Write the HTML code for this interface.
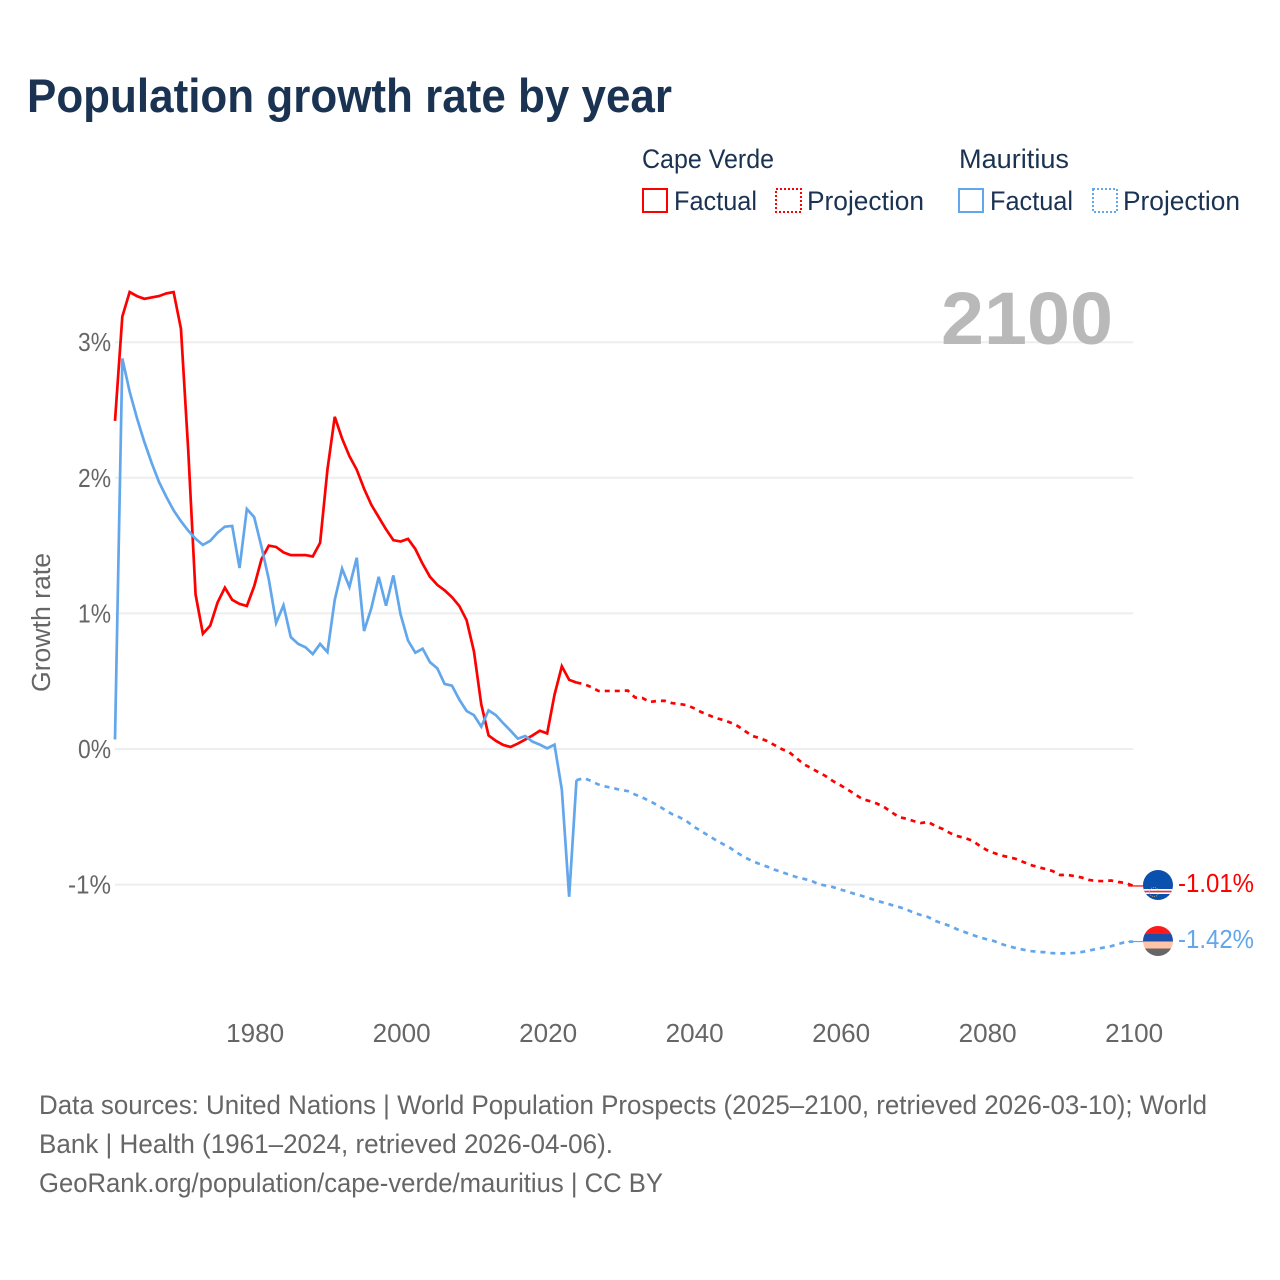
<!DOCTYPE html>
<html lang="en">
<head>
<meta charset="utf-8">
<title>Population growth rate by year</title>
<style>
html,body{margin:0;padding:0;background:#fff;width:1280px;height:1280px;overflow:hidden}
svg{display:block}
text{font-family:"Liberation Sans",sans-serif}
</style>
</head>
<body>
<svg id="chart" xmlns="http://www.w3.org/2000/svg" width="1280" height="1280" viewBox="0 0 1280 1280">
  <rect x="0" y="0" width="1280" height="1280" fill="#ffffff"/>
  <text x="27" y="112" font-size="47" font-weight="700" fill="#1a3352" textLength="645" lengthAdjust="spacingAndGlyphs">Population growth rate by year</text>

  <g font-size="26.5" fill="#1a3352">
    <text x="642" y="168" textLength="132" lengthAdjust="spacingAndGlyphs">Cape Verde</text>
    <text x="959" y="168" textLength="110" lengthAdjust="spacingAndGlyphs">Mauritius</text>
    <g>
      <rect x="643" y="189" width="24" height="23" fill="none" stroke="#ff0000" stroke-width="2"/>
      <text x="674" y="210" textLength="83" lengthAdjust="spacingAndGlyphs">Factual</text>
    </g>
    <g>
      <rect x="776" y="189" width="25" height="23" fill="none" stroke="#ff0000" stroke-width="2" stroke-dasharray="2 2"/>
      <text x="807" y="210" textLength="117" lengthAdjust="spacingAndGlyphs">Projection</text>
    </g>
    <g>
      <rect x="959" y="189" width="24" height="23" fill="none" stroke="#62a6ec" stroke-width="2"/>
      <text x="990" y="210" textLength="83" lengthAdjust="spacingAndGlyphs">Factual</text>
    </g>
    <g>
      <rect x="1093" y="189" width="24" height="23" fill="none" stroke="#62a6ec" stroke-width="2" stroke-dasharray="2 2"/>
      <text x="1123" y="210" textLength="117" lengthAdjust="spacingAndGlyphs">Projection</text>
    </g>
  </g>

  <g id="grid"></g>
  <g id="yticks"></g>
  <g id="xticks"></g>

  <text x="941" y="344" font-size="74" font-weight="700" fill="#b9b9b9" textLength="172" lengthAdjust="spacingAndGlyphs">2100</text>

  <text transform="translate(50 692) rotate(-90)" font-size="25.5" fill="#666666" textLength="139" lengthAdjust="spacingAndGlyphs">Growth rate</text>

  <g id="series"></g>

  <g>
    <clipPath id="clip-cv"><circle cx="1158" cy="885" r="15"/></clipPath>
    <g clip-path="url(#clip-cv)">
      <rect x="1143" y="870" width="30" height="30" fill="#0a50ad"/>
      <rect x="1143" y="889" width="30" height="5" fill="#ffffff"/>
      <rect x="1143" y="890.7" width="30" height="1.7" fill="#e8303a"/>
      <circle cx="1154" cy="892" r="4.5" fill="none" stroke="#d8b060" stroke-width="0.8" stroke-dasharray="1 1"/>
    </g>
  </g>
  <g>
    <clipPath id="clip-mu"><circle cx="1158" cy="941" r="15"/></clipPath>
    <g clip-path="url(#clip-mu)">
      <rect x="1143" y="926" width="30" height="8" fill="#ff1a1a"/>
      <rect x="1143" y="934" width="30" height="7.5" fill="#1c50a8"/>
      <rect x="1143" y="941.5" width="30" height="7" fill="#ffc4a8"/>
      <rect x="1143" y="948.5" width="30" height="8" fill="#666666"/>
    </g>
  </g>

  <text x="1178" y="892" font-size="26" fill="#ff0000" textLength="76" lengthAdjust="spacingAndGlyphs">-1.01%</text>
  <text x="1178" y="948" font-size="26" fill="#62a6ec" textLength="76" lengthAdjust="spacingAndGlyphs">-1.42%</text>

  <g font-size="26.5" fill="#666666">
    <text x="39" y="1114" textLength="1168" lengthAdjust="spacingAndGlyphs">Data sources: United Nations | World Population Prospects (2025–2100, retrieved 2026-03-10); World</text>
    <text x="39" y="1153" textLength="574" lengthAdjust="spacingAndGlyphs">Bank | Health (1961–2024, retrieved 2026-04-06).</text>
    <text x="39" y="1192" textLength="624" lengthAdjust="spacingAndGlyphs">GeoRank.org/population/cape-verde/mauritius | CC BY</text>
  </g>
</svg>
<script>
const factualStartYear = 1961;
const projectionStartYear = 2024;
const yTickValues = [3, 2, 1, 0, -1];
const yTickLabels = ['3%', '2%', '1%', '0%', '-1%'];
const xTickValues = [1980, 2000, 2020, 2040, 2060, 2080, 2100];

const capeVerdeFactual = [
  2.42,3.19,3.37,3.34,3.32,3.33,3.34,3.36,3.37,3.10,
  2.2,1.14,0.85,0.91,1.08,1.19,1.10,1.07,1.055,1.20,
  1.40,1.50,1.49,1.45,1.43,1.43,1.43,1.42,1.52,2.06,
  2.45,2.29,2.16,2.06,1.92,1.80,1.71,1.62,1.54,1.53,
  1.55,1.475,1.365,1.27,1.21,1.17,1.12,1.055,0.95,0.72,
  0.33,0.10,0.06,0.03,0.015,0.04,0.07,0.10,0.135,0.115,
  0.40,0.61,0.51,0.49
];
const mauritiusFactual = [
  0.07,2.88,2.635,2.44,2.265,2.11,1.97,1.86,1.76,1.68,
  1.61,1.55,1.505,1.535,1.595,1.64,1.645,1.335,1.77,1.71,
  1.49,1.25,0.93,1.06,0.825,0.775,0.75,0.70,0.775,0.715,
  1.10,1.33,1.195,1.41,0.87,1.04,1.27,1.057,1.28,0.99,
  0.80,0.71,0.74,0.64,0.595,0.48,0.467,0.365,0.28,0.25,
  0.165,0.285,0.25,0.19,0.135,0.076,0.096,0.054,0.032,0.005,
  0.032,-0.30,-1.09,-0.23
];
const capeVerdeProjection = [
  0.49,0.479,0.457,0.428,0.428,0.428,0.428,0.431,0.38,0.376,0.347,0.354,0.356,0.339,0.332,0.324,0.302,
  0.273,0.251,0.229,0.214,0.195,0.170,0.133,0.096,0.081,0.059,
  0.03,0,-0.022,-0.066,-0.111,-0.14,-0.17,-0.199,-0.236,-0.266,
  -0.299,-0.332,-0.369,-0.384,-0.402,-0.428,-0.465,-0.502,-0.513,-0.531,
  -0.546,-0.538,-0.568,-0.59,-0.62,-0.642,-0.656,-0.675,-0.712,-0.745,
  -0.767,-0.785,-0.797,-0.811,-0.833,-0.856,-0.87,-0.885,-0.90,-0.929,
  -0.929,-0.937,-0.948,-0.966,-0.974,-0.974,-0.97,-0.981,-0.988,-1.01
];
const mauritiusProjection = [
  -0.23,-0.214,-0.236,-0.262,-0.277,-0.288,-0.302,-0.31,-0.336,-0.358,-0.384,-0.413,-0.446,-0.479,-0.502,-0.531,-0.572,
  -0.605,-0.638,-0.671,-0.701,-0.73,-0.767,-0.80,-0.826,-0.848,-0.867,
  -0.889,-0.907,-0.926,-0.944,-0.957,-0.97,-0.996,-1.007,-1.018,-1.036,
  -1.051,-1.069,-1.084,-1.101,-1.119,-1.134,-1.15,-1.165,-1.182,-1.206,
  -1.224,-1.239,-1.268,-1.287,-1.305,-1.33,-1.35,-1.37,-1.389,-1.403,
  -1.416,-1.438,-1.455,-1.468,-1.48,-1.49,-1.496,-1.499,-1.506,-1.507,
  -1.507,-1.504,-1.497,-1.486,-1.475,-1.464,-1.454,-1.438,-1.422,-1.42
];

const NS = 'http://www.w3.org/2000/svg';
function xScale(year) { return 115 + (year - 1961) * 7.325; }
function yScale(value) { return 749 - value * 135.6; }
function pathFor(values, startYear) {
  return values.map(function (v, i) {
    return (i ? 'L' : 'M') + xScale(startYear + i).toFixed(2) + ' ' + yScale(v).toFixed(2);
  }).join(' ');
}

const gridG = document.getElementById('grid');
const yG = document.getElementById('yticks');
const xG = document.getElementById('xticks');
const seriesG = document.getElementById('series');

yTickValues.forEach(function (v, i) {
  const line = document.createElementNS(NS, 'line');
  
  
  line.setAttribute('x1', xScale(1961));
  line.setAttribute('x2', xScale(2100));
  line.setAttribute('y1', yScale(v));
  line.setAttribute('y2', yScale(v));
  line.setAttribute('stroke', '#eeeeee');
  line.setAttribute('stroke-width', '2');
  gridG.appendChild(line);

  const label = document.createElementNS(NS, 'text');
  
  
  label.setAttribute('x', 111);
  label.setAttribute('y', yScale(v) + 9);
  label.setAttribute('text-anchor', 'end');
  label.setAttribute('font-size', '25.5');
  label.setAttribute('fill', '#666666');
  label.setAttribute('textLength', yTickLabels[i].length === 3 ? 43 : 33);
  label.setAttribute('lengthAdjust', 'spacingAndGlyphs');
  label.textContent = yTickLabels[i];
  yG.appendChild(label);
});

xTickValues.forEach(function (year) {
  const label = document.createElementNS(NS, 'text');
  
  
  label.setAttribute('x', xScale(year) + 1);
  label.setAttribute('y', 1042);
  label.setAttribute('text-anchor', 'middle');
  label.setAttribute('font-size', '25.5');
  label.setAttribute('fill', '#666666');
  label.setAttribute('textLength', 58);
  label.setAttribute('lengthAdjust', 'spacingAndGlyphs');
  label.textContent = String(year);
  xG.appendChild(label);
});

function addLine(values, startYear, color, dashed, name) {
  const path = document.createElementNS(NS, 'path');
  
  
  path.setAttribute('d', pathFor(values, startYear));
  path.setAttribute('fill', 'none');
  path.setAttribute('stroke', color);
  path.setAttribute('stroke-width', '2.7');
  path.setAttribute('stroke-linejoin', 'miter');
  if (dashed) {
    path.setAttribute('stroke-dasharray', '5 5');
  }
  seriesG.appendChild(path);
}
function addConnector(value, color, name) {
  const conn = document.createElementNS(NS, 'line');
  
  
  conn.setAttribute('x1', xScale(2100) - 5);
  conn.setAttribute('x2', 1144);
  conn.setAttribute('y1', yScale(value));
  conn.setAttribute('y2', yScale(value));
  conn.setAttribute('stroke', color);
  conn.setAttribute('stroke-width', '1.2');
  seriesG.appendChild(conn);
}

addLine(capeVerdeFactual, factualStartYear, '#ff0000', false, 'cape-verde-factual-line');
addLine(capeVerdeProjection, projectionStartYear, '#ff0000', true, 'cape-verde-projection-line');
addConnector(capeVerdeProjection[capeVerdeProjection.length - 1], '#ff0000', 'cape-verde-flag-connector');
addLine(mauritiusFactual, factualStartYear, '#62a6ec', false, 'mauritius-factual-line');
addLine(mauritiusProjection, projectionStartYear, '#62a6ec', true, 'mauritius-projection-line');
addConnector(mauritiusProjection[mauritiusProjection.length - 1], '#62a6ec', 'mauritius-flag-connector');
</script>
</body>
</html>
